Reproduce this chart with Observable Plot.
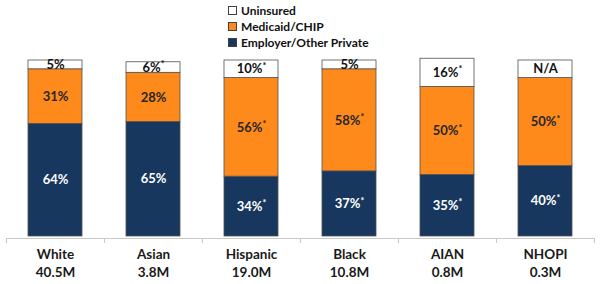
<!DOCTYPE html>
<html>
<head>
<meta charset="utf-8">
<script src="https://cdn.jsdelivr.net/npm/d3@7"></script>
<script src="https://cdn.jsdelivr.net/npm/@observablehq/plot@0.6"></script>
<style>
  html, body { margin: 0; padding: 0; background: #fff; }
  #wrap { position: relative; width: 600px; height: 284px; font-family: Lato, "Open Sans", sans-serif; }
  #legend { position: absolute; left: 228px; top: 2px; font-weight: bold; font-size: 12px; color: #111; }
  #legend .row { display: flex; align-items: center; height: 16px; }
  #legend .sw { width: 7px; height: 7px; border: 1px solid #404040; margin-right: 4px; }
  svg { display: block; }
</style>
</head>
<body>
<div id="wrap"><div id="legend"></div></div>
<script>
const groups = ["White", "Asian", "Hispanic", "Black", "AIAN", "NHOPI"];
const populations = ["40.5M", "3.8M", "19.0M", "10.8M", "0.8M", "0.3M"];
const employer = [64, 65, 34, 37, 35, 40];
const medicaid = [31, 28, 56, 58, 50, 50];
const uninsured = [5, 6, 10, 5, 16, 10];
const employerLabels = ["64%", "65%", "34%*", "37%*", "35%*", "40%*"];
const medicaidLabels = ["31%", "28%", "56%*", "58%*", "50%*", "50%*"];
const uninsuredLabels = ["5%", "6%*", "10%*", "5%", "16%*", "N/A"];
const types = ["Employer/Other Private", "Medicaid/CHIP", "Uninsured"];
const colors = ["#17375E", "#FF8A1C", "#FFFFFF"];
const textColors = ["#FFFFFF", "#262626", "#111111"];

const rows = [];
groups.forEach((g, i) => {
  rows.push({group: g, type: types[0], value: employer[i], label: employerLabels[i]});
  rows.push({group: g, type: types[1], value: medicaid[i], label: medicaidLabels[i]});
  rows.push({group: g, type: types[2], value: uninsured[i], label: uninsuredLabels[i]});
});

const popByGroup = Object.fromEntries(groups.map((g, i) => [g, populations[i]]));
const textColorByType = Object.fromEntries(types.map((t, i) => [t, textColors[i]]));

const chart = Plot.plot({
  width: 600,
  height: 284,
  marginTop: 60,
  marginBottom: 48,
  marginLeft: 6,
  marginRight: 6,
  style: {fontFamily: "Lato, 'Open Sans', sans-serif", background: "#fff"},
  x: {domain: groups, paddingInner: 0.45, paddingOuter: 0.225, axis: null},
  y: {domain: [0, 100], axis: null},
  color: {domain: types, range: colors},
  marks: [
    Plot.barY(rows, {x: "group", y: "value", fill: "type", order: types, stroke: "#505050", strokeWidth: 0.8}),
    Plot.text(rows, Plot.stackY({
      x: "group", y: "value", order: types, text: "label",
      fill: d => textColorByType[d.type], fontSize: 13, fontWeight: "bold",
      className: "seglabel"
    })),
    Plot.ruleY([0], {dy: 2, stroke: "#c8c8c8", strokeWidth: 1}),
    Plot.axisX({ticks: groups, text: null, label: null, tickSize: 5, dy: 2, dx: -49, stroke: "#c8c8c8"}),
    Plot.axisX({ticks: groups.slice(-1), text: null, label: null, tickSize: 5, dy: 2, dx: 49, stroke: "#c8c8c8"}),
    Plot.axisX({
      ticks: groups, tickSize: 0, tickPadding: 10, label: null,
      tickFormat: g => g + "\n" + popByGroup[g],
      lineHeight: 1.3, fontSize: 13.5, fontWeight: "bold", fill: "#1a1a1a"
    })
  ]
});

// superscript asterisks
d3.select(chart).selectAll(".seglabel text").each(function () {
  const t = this.textContent;
  if (t.endsWith("*")) {
    this.textContent = t.slice(0, -1);
    d3.select(this).append("tspan").attr("font-size", 9).attr("dy", "-0.5em").text("*");
  }
});

document.getElementById("wrap").appendChild(chart);

const legend = d3.select("#legend");
[2, 1, 0].forEach(i => {
  const r = legend.append("div").attr("class", "row");
  r.append("div").attr("class", "sw").style("background", colors[i]);
  r.append("span").text(types[i]);
});
</script>
</body>
</html>
